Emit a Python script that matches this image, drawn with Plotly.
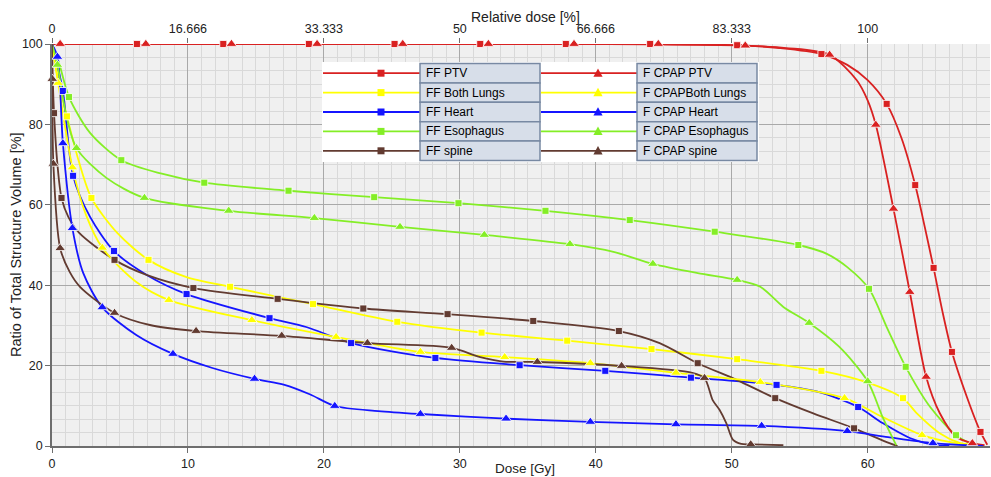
import plotly.graph_objects as go

# ---------------- figure geometry ----------------
W, H = 991, 477
ML, MR, MT, MB = 52, 1, 44, 31
X_MAX = 69.0
REF_DOSE = 60.0          # Gy corresponding to 100 % relative dose

# ---------------- axis ticks ----------------
X_TICKS = [0, 10, 20, 30, 40, 50, 60]
Y_TICKS = [0, 20, 40, 60, 80, 100]
REL_TICKS = [0, 16.666, 33.333, 50, 66.666, 83.333, 100]
REL_LABELS = ["0", "16.666", "33.333", "50", "66.666", "83.333", "100"]

# ---------------- series: curve points (x = dose Gy, y = volume %) ----------------
ff_ptv_x = [0, 6.25, 12.6, 18.9, 25.2, 31.5, 37.8, 44.0, 50.4, 53.5, 56.6, 58.5, 60.0, 61.4, 62.5, 63.5, 64.2, 64.85, 65.5, 66.2, 67.3, 68.3, 68.8]
ff_ptv_y = [100, 100, 100, 100, 100, 100, 100, 99.9, 99.7, 99.0, 97.5, 94.8, 91.0, 85.1, 76.5, 64.9, 54.5, 44.3, 33.5, 23.4, 12.2, 3.5, 0.3]
ff_ptv_mx = [6.25, 12.6, 18.9, 25.2, 31.5, 37.8, 44.0, 50.4, 56.6, 61.4, 63.5, 64.85, 66.2, 68.3]
ff_ptv_my = [100, 100, 100, 100, 100, 100, 100, 99.7, 97.5, 85.1, 64.9, 44.3, 23.4, 3.5]

cp_ptv_x = [0, 0.6, 6.9, 13.2, 19.5, 25.8, 32.1, 38.4, 44.6, 51.0, 54.0, 57.2, 59.2, 60.0, 60.6, 61.9, 63.1, 64.3, 65.3, 66.5, 67.7, 68.6]
cp_ptv_y = [100, 100, 100, 100, 100, 100, 100, 100, 100, 99.6, 99.0, 97.3, 91.0, 86.0, 79.9, 59.0, 38.3, 17.2, 8.2, 2.3, 0.7, 0.2]
cp_ptv_mx = [0.6, 6.9, 13.2, 19.5, 25.8, 32.1, 38.4, 44.6, 51.0, 57.2, 60.6, 61.9, 63.1, 64.3, 67.7]
cp_ptv_my = [100, 100, 100, 100, 100, 100, 100, 100, 99.6, 97.3, 79.9, 59.0, 38.3, 17.2, 0.7]

ff_lung_x = [0, 0.4, 1.1, 2.0, 2.9, 4.8, 7.1, 9.9, 13.1, 19.2, 25.4, 31.6, 37.9, 44.1, 50.4, 56.6, 59.9, 62.6, 63.6, 65.3, 66.8, 67.8]
ff_lung_y = [100, 92, 82, 70.5, 61.7, 53, 46.3, 42, 39.6, 35.3, 30.9, 28.2, 26.2, 24.1, 21.6, 18.7, 15.9, 11.9, 8.2, 3.2, 0.7, 0.1]
ff_lung_mx = [1.1, 2.9, 7.1, 13.1, 19.2, 25.4, 31.6, 37.9, 44.1, 50.4, 56.6, 62.6]
ff_lung_my = [82, 61.7, 46.3, 39.6, 35.3, 30.9, 28.2, 26.2, 24.1, 21.6, 18.7, 11.9]

cp_lung_x = [0, 0.45, 1.5, 2.5, 3.7, 6.2, 8.6, 14.7, 20.9, 27.1, 33.3, 39.6, 45.9, 52.1, 58.3, 61.1, 64.0, 66.0, 68.0]
cp_lung_y = [100, 90.3, 69.3, 57.5, 49.3, 40.8, 36.3, 31.3, 27.1, 23.4, 22.1, 20.6, 18.2, 15.9, 11.9, 7.2, 2.7, 1.0, 0.2]
cp_lung_mx = [0.45, 1.5, 3.7, 8.6, 14.7, 20.9, 27.1, 33.3, 39.6, 45.9, 52.1, 58.3, 64.0]
cp_lung_my = [90.3, 69.3, 49.3, 36.3, 31.3, 27.1, 23.4, 22.1, 20.6, 18.2, 15.9, 11.9, 2.7]

ff_heart_x = [0, 0.3, 0.8, 1.55, 2.8, 4.56, 7.0, 9.9, 16.0, 18.7, 22.0, 28.2, 34.4, 40.7, 47.0, 53.3, 56.3, 59.3, 61.1, 63.1, 64.8, 66.0]
ff_heart_y = [100, 96, 88.3, 67.2, 57, 48.5, 42.5, 37.8, 31.8, 29.6, 25.6, 21.9, 20.1, 18.7, 17.0, 15.2, 13.5, 9.7, 5.7, 2.0, 0.3, 0.0]
ff_heart_mx = [0.8, 1.55, 4.56, 9.9, 16.0, 22.0, 28.2, 34.4, 40.7, 47.0, 53.3, 59.3, 64.8]
ff_heart_my = [88.3, 67.2, 48.5, 37.8, 31.8, 25.6, 21.9, 20.1, 18.7, 17.0, 15.2, 9.7, 0.3]

cp_heart_x = [0, 0.4, 0.8, 1.5, 2.3, 3.7, 6.2, 8.9, 11.8, 14.9, 17.1, 19.0, 20.8, 24.0, 27.1, 33.4, 39.6, 45.9, 52.2, 58.5, 61.5, 64.8, 68.5]
cp_heart_y = [100, 96.8, 75.3, 54.2, 43, 34.5, 27.6, 22.9, 19.4, 16.7, 15.2, 12.8, 9.95, 8.7, 7.96, 6.8, 6.0, 5.4, 5.0, 3.7, 2.2, 0.7, 0.0]
cp_heart_mx = [0.4, 0.8, 1.5, 3.7, 8.9, 14.9, 20.8, 27.1, 33.4, 39.6, 45.9, 52.2, 58.5, 64.8]
cp_heart_my = [96.8, 75.3, 54.2, 34.5, 22.9, 16.7, 9.95, 7.96, 6.8, 6.0, 5.4, 5.0, 3.7, 0.7]

ff_eso_x = [0, 0.5, 1.25, 2.8, 5.1, 8.0, 11.2, 17.4, 23.7, 29.9, 36.3, 42.5, 48.75, 54.9, 57.0, 58.5, 60.1, 61.4, 62.8, 64.6, 66.5, 67.8]
ff_eso_y = [100, 95.5, 86.8, 77.9, 71.1, 67.8, 65.5, 63.5, 61.9, 60.4, 58.5, 56.2, 53.3, 50.0, 47.8, 44.5, 39.1, 29.6, 19.7, 9.7, 2.7, 0.2]
ff_eso_mx = [1.25, 5.1, 11.2, 17.4, 23.7, 29.9, 36.3, 42.5, 48.75, 54.9, 60.1, 62.8, 66.5]
ff_eso_my = [86.8, 71.1, 65.5, 63.5, 61.9, 60.4, 58.5, 56.2, 53.3, 50.0, 39.1, 19.7, 2.7]

cp_eso_x = [0, 0.4, 1.0, 1.8, 4.0, 6.8, 13.0, 19.3, 25.6, 31.8, 38.1, 41.3, 44.2, 47.5, 50.4, 52.1, 53.8, 55.7, 57.9, 60.0, 61.1, 62.1]
cp_eso_y = [100, 94.8, 83, 74.1, 66.7, 61.7, 58.5, 56.7, 54.5, 52.5, 50.2, 48.3, 45.3, 43.0, 41.3, 39.6, 34.6, 30.6, 24.7, 16.1, 7.2, 0.2]
cp_eso_mx = [0.4, 1.8, 6.8, 13.0, 19.3, 25.6, 31.8, 38.1, 44.2, 50.4, 55.7, 60.0]
cp_eso_my = [94.8, 74.1, 61.7, 58.5, 56.7, 54.5, 52.5, 50.2, 45.3, 41.3, 30.6, 16.1]

ff_spine_x = [0, 0.05, 0.15, 0.4, 0.7, 1.2, 2.0, 4.6, 7.0, 10.4, 16.6, 22.9, 29.1, 35.4, 41.7, 44.7, 47.5, 50.4, 53.2, 56.0, 59.0, 61.6, 62.2]
ff_spine_y = [100, 92, 82.8, 70, 61.7, 57, 53, 46.3, 42.5, 39.3, 36.6, 34.2, 32.8, 31.1, 28.6, 25.6, 20.6, 16.4, 11.9, 8.1, 4.4, 0.7, 0.0]
ff_spine_mx = [0.15, 0.7, 4.6, 10.4, 16.6, 22.9, 29.1, 35.4, 41.7, 47.5, 53.2, 59.0]
ff_spine_my = [82.8, 61.7, 46.3, 39.3, 36.6, 34.2, 32.8, 31.1, 28.6, 20.6, 11.9, 4.4]

cp_spine_x = [0, 0.02, 0.1, 0.6, 1.3, 2.06, 4.6, 7.2, 10.6, 16.9, 23.2, 29.4, 31.5, 33.2, 35.7, 41.9, 47.1, 48.0, 48.6, 49.1, 49.6, 50.1, 50.7, 51.4, 53.8]
cp_spine_y = [100, 91.3, 70.2, 49.2, 43.3, 39.6, 33.1, 30.1, 28.6, 27.4, 25.6, 24.4, 22.1, 21.0, 20.9, 19.9, 18.2, 16.9, 11.4, 9.0, 5.7, 1.5, 0.5, 0.4, 0.2]
cp_spine_mx = [0.02, 0.1, 0.6, 4.6, 10.6, 16.9, 23.2, 29.4, 35.7, 41.9, 48.0, 51.4]
cp_spine_my = [91.3, 70.2, 49.2, 33.1, 28.6, 27.4, 25.6, 24.4, 20.9, 19.9, 16.9, 0.4]

# ---------------- styling ----------------
RED, YELLOW, BLUE, GREEN, BROWN = "#d92121", "#ffff00", "#1515ff", "#84ee26", "#623b31"
FONT = "Liberation Sans, Arial, sans-serif"
TXT = "#222222"

series = [
    ("FF PTV", ff_ptv_x, ff_ptv_y, ff_ptv_mx, ff_ptv_my, RED, "square"),
    ("FF Both Lungs", ff_lung_x, ff_lung_y, ff_lung_mx, ff_lung_my, YELLOW, "square"),
    ("FF Heart", ff_heart_x, ff_heart_y, ff_heart_mx, ff_heart_my, BLUE, "square"),
    ("FF Esophagus", ff_eso_x, ff_eso_y, ff_eso_mx, ff_eso_my, GREEN, "square"),
    ("FF spine", ff_spine_x, ff_spine_y, ff_spine_mx, ff_spine_my, BROWN, "square"),
    ("F CPAP PTV", cp_ptv_x, cp_ptv_y, cp_ptv_mx, cp_ptv_my, RED, "triangle-up"),
    ("F CPAPBoth Lungs", cp_lung_x, cp_lung_y, cp_lung_mx, cp_lung_my, YELLOW, "triangle-up"),
    ("F CPAP Heart", cp_heart_x, cp_heart_y, cp_heart_mx, cp_heart_my, BLUE, "triangle-up"),
    ("F CPAP Esophagus", cp_eso_x, cp_eso_y, cp_eso_mx, cp_eso_my, GREEN, "triangle-up"),
    ("F CPAP spine", cp_spine_x, cp_spine_y, cp_spine_mx, cp_spine_my, BROWN, "triangle-up"),
]

fig = go.Figure()
for name, x, y, mx, my, col, sym in series:
    fig.add_trace(go.Scatter(x=x, y=y, mode="lines", name=name, legendgroup=name,
                             line=dict(color=col, width=1.8, shape="spline", smoothing=0.8),
                             cliponaxis=False, showlegend=False, hoverinfo="skip"))
for name, x, y, mx, my, col, sym in series:
    fig.add_trace(go.Scatter(x=mx, y=my, mode="markers", name=name, legendgroup=name,
                             marker=dict(color=col, symbol=sym, size=7 if sym == "square" else 9.5,
                                         line=dict(color="white", width=0.8)),
                             cliponaxis=False, showlegend=False))

# anchor trace for the top (relative dose) axis
fig.add_trace(go.Scatter(x=[0], y=[None], xaxis="x2", yaxis="y", mode="markers",
                         marker=dict(opacity=0), showlegend=False, hoverinfo="skip"))

# ---------------- hand-built legend (pixel layout) ----------------
PW, PH = W - ML - MR, H - MT - MB
def fx(px):
    return (px - ML) / PW
def fy(py):
    return (H - MB - py) / PH

shapes = []
annotations = []
shapes.append(dict(type="rect", xref="paper", yref="paper", x0=fx(322), x1=fx(759), y0=fy(62), y1=fy(162),
                   fillcolor="white", line=dict(width=0), layer="above"))
LEG_TOP, ROW_H = 63.5, 19.4
columns = [(323, 381, 420, 540), (541, 598, 637, 757)]
for i, (name, x, y, mx, my, col, sym) in enumerate(series):
    c, r = divmod(i, 5)
    s0, mxp, b0, b1 = columns[c]
    top = LEG_TOP + r * ROW_H
    cy = top + ROW_H / 2
    shapes.append(dict(type="line", xref="paper", yref="paper", x0=fx(s0), x1=fx(b0), y0=fy(cy), y1=fy(cy),
                       line=dict(color=col, width=1.8), layer="above"))
    if sym == "square":
        shapes.append(dict(type="rect", xref="paper", yref="paper", x0=fx(mxp - 3.5), x1=fx(mxp + 3.5),
                           y0=fy(cy - 3.5), y1=fy(cy + 3.5), fillcolor=col, line=dict(width=0), layer="above"))
    else:
        path = "M {:.5f},{:.5f} L {:.5f},{:.5f} L {:.5f},{:.5f} Z".format(
            fx(mxp), fy(cy - 4.8), fx(mxp - 4.6), fy(cy + 3.6), fx(mxp + 4.6), fy(cy + 3.6))
        shapes.append(dict(type="path", xref="paper", yref="paper", path=path, fillcolor=col,
                           line=dict(width=0), layer="above"))
    shapes.append(dict(type="rect", xref="paper", yref="paper", x0=fx(b0), x1=fx(b1), y0=fy(top), y1=fy(top + ROW_H),
                       fillcolor="#d7dee9", line=dict(color="#7889a3", width=1.5), layer="above"))
    annotations.append(dict(xref="paper", yref="paper", x=fx(b0 + 4), y=fy(cy), xanchor="left", yanchor="middle",
                            text=name, showarrow=False, font=dict(family=FONT, size=12, color="black")))

# axis titles placed at the reference pixel positions
annotations.append(dict(xref="paper", yref="paper", x=fx(525), y=fy(17), xanchor="center", yanchor="middle",
                        text="Relative dose [%]", showarrow=False, font=dict(family=FONT, size=14, color=TXT)))
annotations.append(dict(xref="paper", yref="paper", x=fx(525), y=fy(476.5), xanchor="center", yanchor="bottom",
                        text="Dose [Gy]", showarrow=False, borderpad=0,
                        font=dict(family=FONT, size=13.5, color=TXT)))
annotations.append(dict(xref="paper", yref="paper", x=fx(16), y=fy(245), xanchor="center", yanchor="middle",
                        textangle=-90, text="Ratio of Total Structure Volume [%]", showarrow=False,
                        font=dict(family=FONT, size=14.5, color=TXT)))

axis_common = dict(showline=True, linecolor="#6e6e6e", linewidth=1.5, ticks="outside", ticklen=5,
                   tickcolor="#6e6e6e", tickfont=dict(family=FONT, size=12.5, color=TXT),
                   zeroline=False, automargin=False)

fig.update_layout(
    width=W, height=H, margin=dict(l=ML, r=MR, t=MT, b=MB),
    paper_bgcolor="white", plot_bgcolor="#f0f0f0",
    font=dict(family=FONT, size=12, color=TXT),
    showlegend=False,
    xaxis=dict(range=[0, X_MAX], tickvals=X_TICKS, showgrid=True, gridcolor="#a9a9a9", gridwidth=1.3,
               minor=dict(dtick=1, showgrid=True, gridcolor="#d9d9d9", gridwidth=1, ticks=""),
               **axis_common),
    xaxis2=dict(overlaying="x", side="top", anchor="y", range=[0, X_MAX * 100 / REF_DOSE],
                tickvals=REL_TICKS, ticktext=REL_LABELS, showgrid=False, showline=False, ticks="outside",
                ticklen=5, tickcolor="#6e6e6e", tickfont=dict(family=FONT, size=12.5, color=TXT),
                zeroline=False, automargin=False),
    yaxis=dict(range=[0, 100], tickvals=Y_TICKS, showgrid=True, gridcolor="#a9a9a9", gridwidth=1.3,
               minor=dict(dtick=20 / 6, showgrid=True, gridcolor="#d9d9d9", gridwidth=1, ticks=""),
               **axis_common),
    shapes=shapes, annotations=annotations,
)

fig.write_html("out.html", config={"displayModeBar": False},
               post_script="document.body.style.margin='0';document.body.style.overflow='hidden';")
